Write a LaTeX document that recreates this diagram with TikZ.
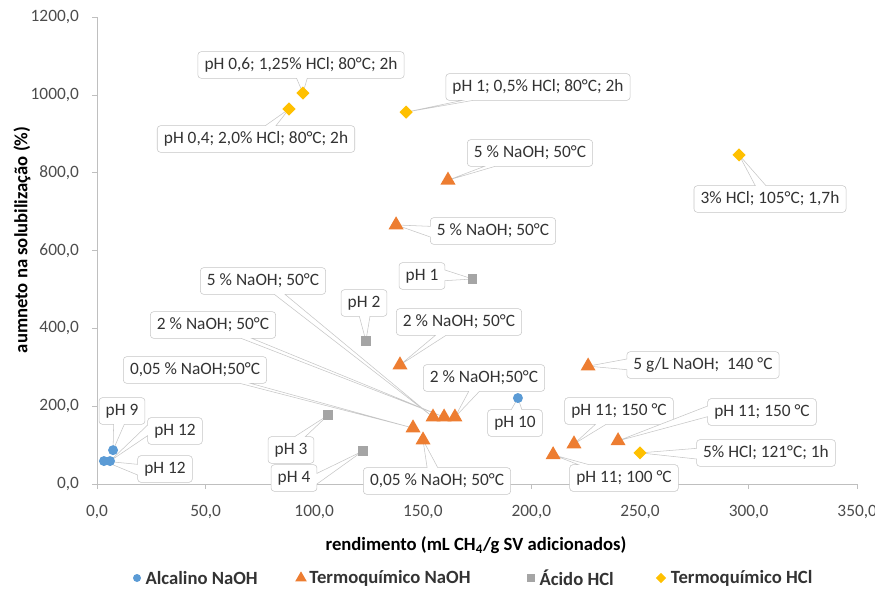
\documentclass[tikz,border=0pt]{standalone}
\usepackage{fontspec}
\setmainfont{Carlito}
\usetikzlibrary{positioning,shapes.geometric,shapes.callouts}

\begin{document}
\begin{tikzpicture}[
        x=0.75pt,y=-0.75pt,
        font=\fontsize{13}{15}\selectfont,
        lbl/.style={rectangle callout,draw=gray!45,fill=white,text=black!80,
            rounded corners=2.5pt,inner xsep=5pt,inner ysep=2pt,minimum height=20pt,
            callout pointer width=8pt},
        blpt/.style={circle,fill=blx,inner sep=0pt,minimum size=7.5pt},
        orpt/.style={regular polygon,regular polygon sides=3,fill=orx,inner sep=0pt,minimum size=13pt},
        grpt/.style={rectangle,fill=grx,inner sep=0pt,minimum size=7pt},
        yept/.style={diamond,fill=yex,inner sep=0pt,minimum size=10pt},
        axis/.style={draw=gray!50,line width=0.7pt},
        tick/.style={text=black!70},
        legtxt/.style={font=\fontsize{14}{16}\selectfont\bfseries,text=black!80,inner sep=1pt}
    ]
    \definecolor{blx}{HTML}{5B9BD5}
    \definecolor{orx}{HTML}{ED7D31}
    \definecolor{grx}{HTML}{A5A5A5}
    \definecolor{yex}{HTML}{FFC000}

    \useasboundingbox (0,0) rectangle (875,590);

    % plot area in data units
    \begin{scope}[shift={(97,484)},x=1.629pt,y=0.29175pt]
        \draw[axis] (0,1200) -- (0,0) -- (350,0);
        \foreach \v/\t [count=\i] in {0/{0,0},200/{200,0},400/{400,0},600/{600,0},
                                      800/{800,0},1000/{1000,0},1200/{1200,0}} {
            \draw[axis] (0,\v) -- ++(-4pt,0pt);
            \node[tick,anchor=east] (yl\i) at ([xshift=-10pt]0,\v) {\t};
        }
        \foreach \v/\t [count=\i] in {0/{0,0},50/{50,0},100/{100,0},150/{150,0},
                                      200/{200,0},250/{250,0},300/{300,0},350/{350,0}} {
            \draw[axis] (\v,0) -- ++(0pt,-4pt);
            \node[tick] (xl\i) at ([yshift=-21pt]\v,0) {\t};
        }

        % Alcalino NaOH
        \coordinate (a1) at (7.4,87);
        \coordinate (a2) at (6.0,59);
        \coordinate (a3) at (3.2,59);
        \coordinate (a4) at (193.8,221);
        % Termoquimico NaOH
        \coordinate (t1) at (161.6,781);
        \coordinate (t2) at (137.7,666);
        \coordinate (t3) at (139.5,306);
        \coordinate (t4) at (154.7,172);
        \coordinate (t5) at (159.8,172);
        \coordinate (t6) at (164.8,172);
        \coordinate (t7) at (145.5,144);
        \coordinate (t8) at (150.1,113);
        \coordinate (t9) at (226.1,303);
        \coordinate (t10) at (219.6,103);
        \coordinate (t11) at (239.9,111);
        \coordinate (t12) at (210.0,75);
        % Acido HCl
        \coordinate (s1) at (173.0,527);
        \coordinate (s2) at (123.8,368);
        \coordinate (s3) at (106.4,177);
        \coordinate (s4) at (122.5,85);
        % Termoquimico HCl
        \coordinate (d1) at (94.8,1005);
        \coordinate (d2) at (88.4,964);
        \coordinate (d3) at (142.3,956);
        \coordinate (d4) at (295.6,846);
        \coordinate (d5) at (250.0,80);
    \end{scope}

    % data labels
    \node[lbl,callout absolute pointer={(d1)}] (ld1) at (301,65)  {pH 0,6; 1,25\% HCl; 80°C; 2h};
    \node[lbl,callout absolute pointer={(d2)}] (ld2) at (256,139) {pH 0,4; 2,0\% HCl; 80°C; 2h};
    \node[lbl,callout absolute pointer={(d3)}] (ld3) at (538,87)  {pH 1; 0,5\% HCl; 80°C; 2h};
    \node[lbl,callout absolute pointer={(d4)}] (ld4) at (770,199) {3\% HCl; 105°C; 1,7h};
    \node[lbl,callout absolute pointer={(d5)}] (ld5) at (766,453) {5\% HCl; 121°C; 1h};

    \node[lbl,callout absolute pointer={(t1)}] (lt1) at (530,153) {5 \% NaOH; 50°C};
    \node[lbl,callout absolute pointer={(t2)}] (lt2) at (493,231) {5 \% NaOH; 50°C};
    \node[lbl,callout absolute pointer={(t3)}] (lt3) at (459,322) {2 \% NaOH; 50°C};
    \node[lbl,callout absolute pointer={(t4)}] (lt4) at (263,281) {5 \% NaOH; 50°C};
    \node[lbl,callout absolute pointer={(t5)}] (lt5) at (213,325) {2 \% NaOH; 50°C};
    \node[lbl,callout absolute pointer={(t7)}] (lt7) at (195,370) {0,05 \% NaOH;50°C};
    \node[lbl,callout absolute pointer={(t6)}] (lt6) at (484,378) {2 \% NaOH;50°C};
    \node[lbl,callout absolute pointer={(t8)}] (lt8) at (437,481) {0,05 \% NaOH; 50°C};
    \node[lbl,callout absolute pointer={(t9)}] (lt9) at (703,365) {5 g/L NaOH;\ \ 140 °C};
    \node[lbl,callout absolute pointer={(t10)}] (lt10) at (619,411) {pH 11; 150 °C};
    \node[lbl,callout absolute pointer={(t11)}] (lt11) at (762,412) {pH 11; 150 °C};
    \node[lbl,callout absolute pointer={(t12)}] (lt12) at (624,478) {pH 11; 100 °C};

    \node[lbl,callout absolute pointer={(s1)}] (ls1) at (422,276) {pH 1};
    \node[lbl,callout absolute pointer={(s2)}] (ls2) at (364,303) {pH 2};
    \node[lbl,callout absolute pointer={(s3)}] (ls3) at (291,450) {pH 3};
    \node[lbl,callout absolute pointer={(s4)}] (ls4) at (294,478) {pH 4};

    \node[lbl,callout absolute pointer={(a1)}] (la1) at (122,411) {pH 9};
    \node[lbl,callout absolute pointer={(a2)}] (la2) at (175,431) {pH 12};
    \node[lbl,callout absolute pointer={(a3)}] (la3) at (165,469) {pH 12};
    \node[lbl,callout absolute pointer={(a4)}] (la4) at (515,423) {pH 10};

    % markers on top
    \foreach \p in {a1,a2,a3,a4} \node[blpt] (m\p) at (\p) {};
    \foreach \p in {t1,t2,t3,t4,t5,t6,t7,t8,t9,t10,t11,t12} \node[orpt] (m\p) at (\p) {};
    \foreach \p in {s1,s2,s3,s4} \node[grpt] (m\p) at (\p) {};
    \foreach \p in {d1,d2,d3,d4,d5} \node[yept] (m\p) at (\p) {};

    % axis titles
    \node[font=\fontsize{14}{16}\selectfont\bfseries] (xtitle) at (476,545)
        {rendimento (mL CH\textsubscript{4}/g SV adicionados)};
    \node[font=\fontsize{14}{16}\selectfont\bfseries,rotate=90] (ytitle) at (22,240)
        {aumneto na solubilização (\%)};

    % legend
    \node[blpt,minimum size=6pt] (k1) at (137,578) {};
    \node[legtxt,right=2pt of k1] (kt1) {Alcalino NaOH};
    \node[orpt,minimum size=10pt] (k2) at (301,578) {};
    \node[legtxt,right=2pt of k2] (kt2) {Termoquímico NaOH};
    \node[grpt,minimum size=6pt] (k3) at (531,578) {};
    \node[legtxt,right=2pt of k3] (kt3) {Ácido HCl};
    \node[yept,minimum size=8pt] (k4) at (661,578) {};
    \node[legtxt,right=2pt of k4] (kt4) {Termoquímico HCl};
\end{tikzpicture}
\end{document}
